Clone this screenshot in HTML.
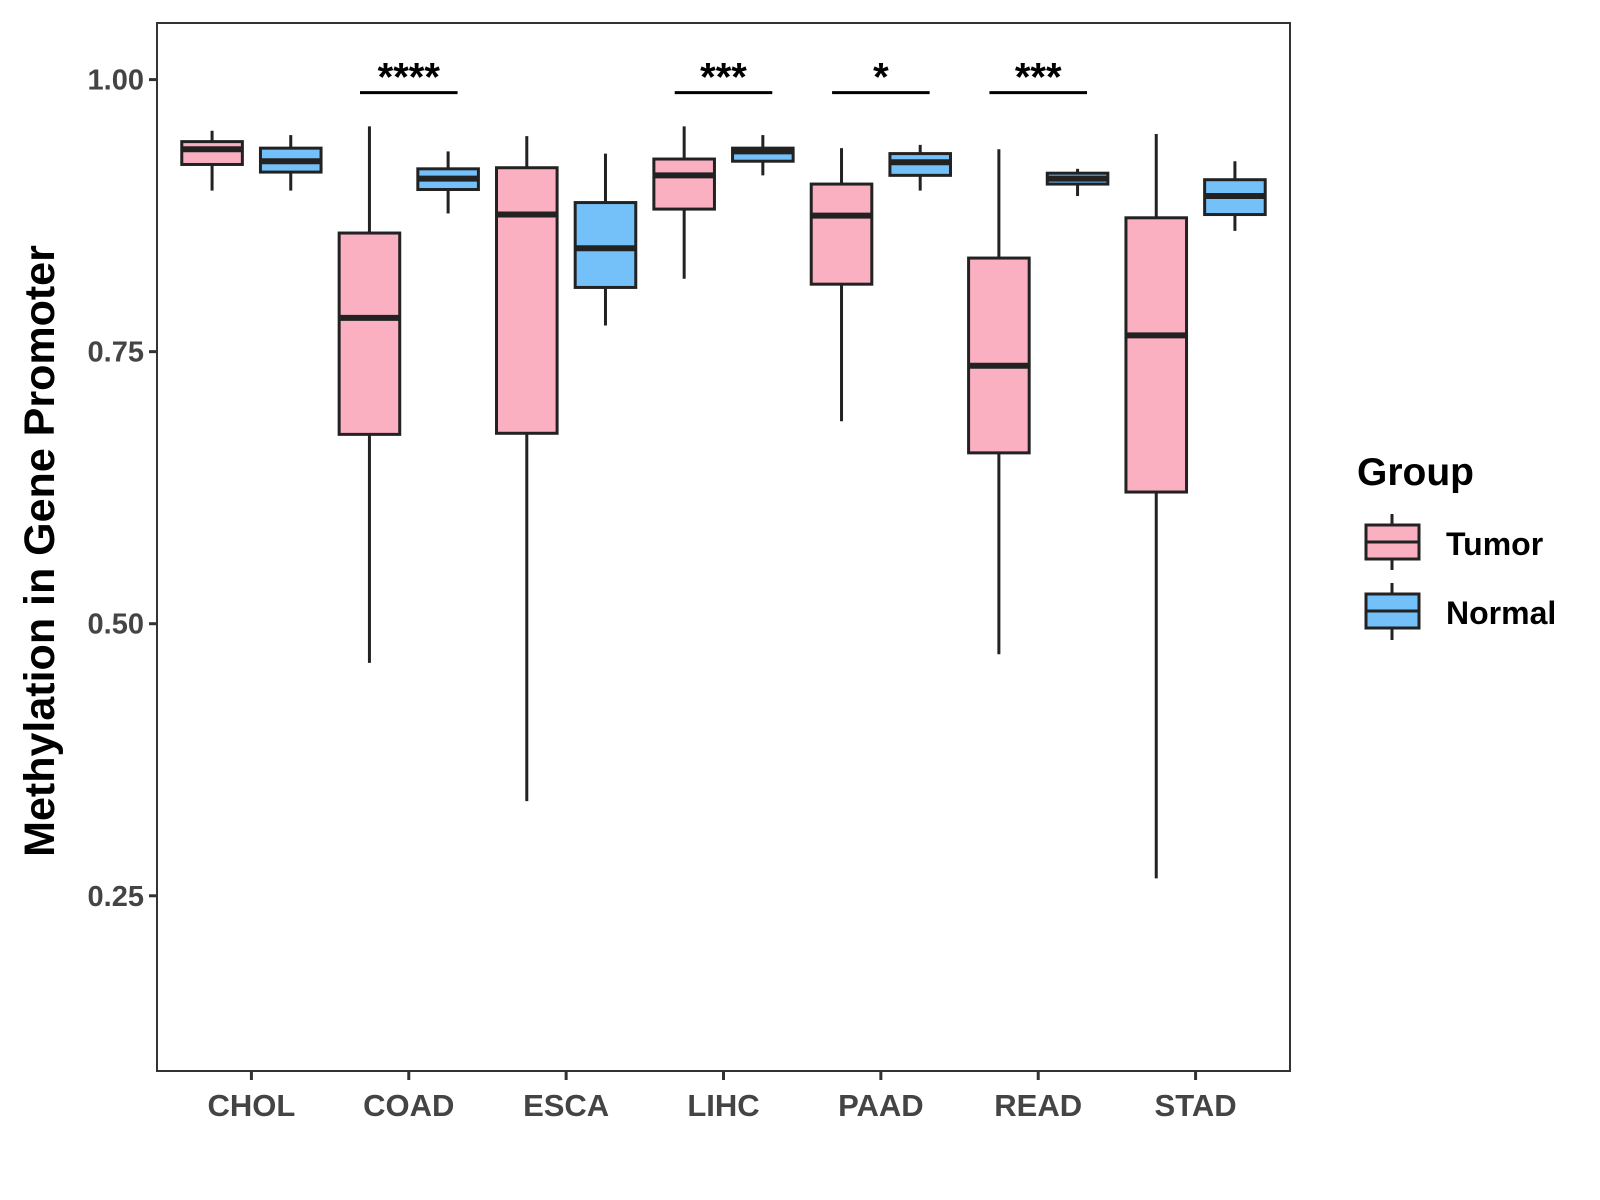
<!DOCTYPE html>
<html><head><meta charset="utf-8"><style>
html,body{margin:0;padding:0;background:#fff}
svg{display:block;font-family:"Liberation Sans",Arial,sans-serif}
</style></head><body>
<svg id="chart" width="1600" height="1200" viewBox="0 0 1600 1200">
<rect x="0" y="0" width="1600" height="1200" fill="#fff"/>
<g id="plot"></g>
<text x="0" y="0" transform="translate(54,551) rotate(-90)" text-anchor="middle" font-size="43" font-weight="bold" fill="#000">Methylation in Gene Promoter</text>
<g>
<text x="1357" y="485" font-size="39" font-weight="bold" fill="#000">Group</text>
<g>
<line x1="1392" y1="514" x2="1392" y2="570" stroke="#222" stroke-width="3"/>
<rect x="1366" y="525" width="53" height="34" fill="#fbb0c2" stroke="#222" stroke-width="3"/>
<line x1="1366" y1="542" x2="1419" y2="542" stroke="#222" stroke-width="3"/>
<text x="1446" y="555" font-size="32" font-weight="bold" fill="#000">Tumor</text>
</g>
<g>
<line x1="1392" y1="583" x2="1392" y2="640" stroke="#222" stroke-width="3"/>
<rect x="1366" y="594" width="53" height="34" fill="#74c0f8" stroke="#222" stroke-width="3"/>
<line x1="1366" y1="611" x2="1419" y2="611" stroke="#222" stroke-width="3"/>
<text x="1446" y="624" font-size="32" font-weight="bold" fill="#000">Normal</text>
</g>
</g>
</svg>
<script>
const categories = ["CHOL","COAD","ESCA","LIHC","PAAD","READ","STAD"];
// [whiskerHigh, whiskerLow, q3, q1, median]
const tumorStats = [
 [0.953,0.898,0.943,0.922,0.936],
 [0.957,0.464,0.859,0.674,0.781],
 [0.948,0.337,0.919,0.675,0.876],
 [0.957,0.817,0.927,0.881,0.912],
 [0.937,0.686,0.904,0.812,0.875],
 [0.936,0.472,0.836,0.657,0.737],
 [0.950,0.266,0.873,0.621,0.765]
];
const normalStats = [
 [0.949,0.898,0.937,0.915,0.925],
 [0.934,0.877,0.918,0.899,0.909],
 [0.932,0.774,0.887,0.809,0.845],
 [0.949,0.912,0.937,0.925,0.934],
 [0.940,0.898,0.932,0.912,0.924],
 [0.918,0.893,0.914,0.904,0.909],
 [0.925,0.861,0.908,0.876,0.893]
];
const yTicks = [0.25,0.50,0.75,1.00];
const yTickLabels = ["0.25","0.50","0.75","1.00"];
const sigCategories = ["COAD","LIHC","PAAD","READ"];
const sigLabels = ["****","***","*","***"];
const sigLevel = 0.988;

const NS="http://www.w3.org/2000/svg";
const P={l:157,r:1290,t:23,b:1071};
const yMin=0.089,yMax=1.052;
const y=v=>P.b-(v-yMin)/(yMax-yMin)*(P.b-P.t);
const step=(P.r-P.l)/(categories.length+0.2);
const x=i=>P.l+(0.6+i)*step;
const g=document.getElementById('plot');
function mk(tag,attrs,parent){const e=document.createElementNS(NS,tag);for(const k in attrs)e.setAttribute(k,attrs[k]);(parent||g).appendChild(e);return e;}

function drawBox(cx,s,fill,name){
  const grp=mk('g',{});
  
  
  const w=step*0.385;
  mk('line',{x1:cx,x2:cx,y1:y(s[0]),y2:y(s[1]),stroke:'#222','stroke-width':3},grp);
  mk('rect',{x:cx-w/2,y:y(s[2]),width:w,height:y(s[3])-y(s[2]),fill:fill,stroke:'#222','stroke-width':3},grp);
  mk('line',{x1:cx-w/2,x2:cx+w/2,y1:y(s[4]),y2:y(s[4]),stroke:'#222','stroke-width':6},grp);
}
categories.forEach((c,i)=>{
  drawBox(x(i)-step*0.25,tumorStats[i],'#fbb0c2','box-tumor-'+c.toLowerCase());
  drawBox(x(i)+step*0.25,normalStats[i],'#74c0f8','box-normal-'+c.toLowerCase());
});
sigCategories.forEach((c,k)=>{
  const i=categories.indexOf(c);
  const l=mk('line',{x1:x(i)-step*0.31,x2:x(i)+step*0.31,y1:y(sigLevel),y2:y(sigLevel),stroke:'#000','stroke-width':3});
  
  
  const t=mk('text',{x:x(i),y:y(sigLevel)-2,'text-anchor':'middle','font-size':40,'font-weight':'bold',fill:'#000'});
  t.textContent=sigLabels[k];
  
  
});
const frame=mk('rect',{x:P.l,y:P.t,width:P.r-P.l,height:P.b-P.t,fill:'none',stroke:'#333','stroke-width':2});


yTicks.forEach((v,k)=>{
  mk('line',{x1:P.l-8,x2:P.l,y1:y(v),y2:y(v),stroke:'#333','stroke-width':3});
  const t=mk('text',{x:P.l-13,y:y(v)+10,'text-anchor':'end','font-size':29,'font-weight':'bold',fill:'#444'});
  t.textContent=yTickLabels[k];
  
  
});
categories.forEach((c,i)=>{
  mk('line',{x1:x(i),x2:x(i),y1:P.b,y2:P.b+9,stroke:'#333','stroke-width':3});
  const t=mk('text',{x:x(i),y:P.b+45,'text-anchor':'middle','font-size':31,'font-weight':'bold',fill:'#444'});
  t.textContent=c;
  
  
});
</script>
</body></html>
